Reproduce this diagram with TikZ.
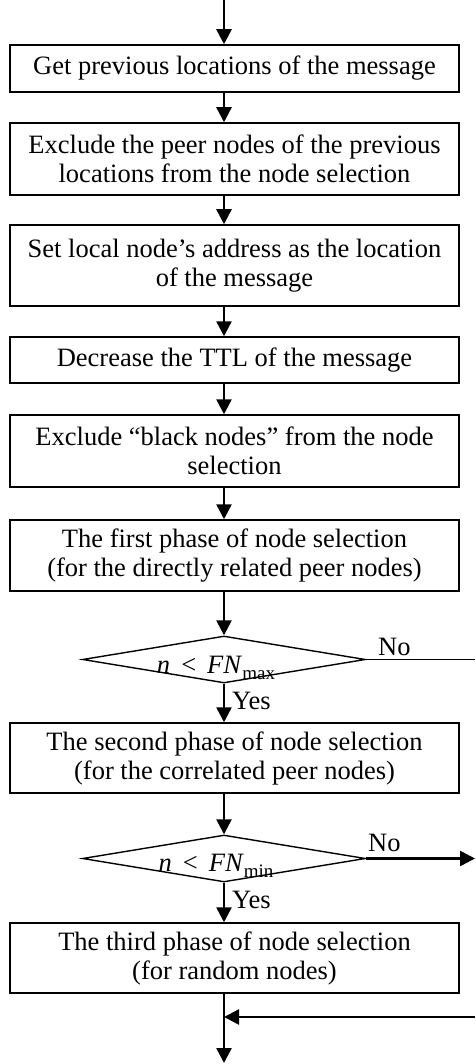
\documentclass[tikz,border=0pt]{standalone}
\usepackage{fontspec}
\setmainfont{Liberation Serif}
\usetikzlibrary{shapes.geometric,arrows.meta}
\begin{document}
\begin{tikzpicture}[x=1pt,y=-1pt,
  stepbox/.style={draw, line width=1.5pt, minimum width=449pt, align=center,
    inner sep=0pt, font=\fontsize{26.5}{29}\selectfont},
  decision/.style={draw, diamond, line width=1.4pt, inner sep=0pt,
    minimum width=283pt, minimum height=47pt},
  lbl/.style={inner sep=0pt, font=\fontsize{26.5}{29}\selectfont},
  flow/.style={line width=2.5pt, -{Triangle[length=15pt,width=15pt]}},
  plain/.style={line width=1.2pt}]
\useasboundingbox (0,0) rectangle (475,1064);
\coordinate (ax) at (224,0);
\coordinate (start) at (224,0);

\node[stepbox, minimum height=47pt] (b1) at (234.5,68.5) {Get previous locations of the message};
\node[stepbox, minimum height=72pt] (b2) at (234.5,159) {Exclude the peer nodes of the previous\\locations from the node selection};
\node[stepbox, minimum height=81pt] (b3) at (234.5,265.5) {Set local node’s address as the location\\of the message};
\node[stepbox, minimum height=46pt] (b4) at (234.5,360) {Decrease the TTL of the message};
\node[stepbox, minimum height=72pt] (b5) at (234.5,451) {Exclude “black nodes” from the node\\selection};
\node[stepbox, minimum height=71pt] (b6) at (234.5,555.5) {The first phase of node selection\\(for the directly related peer nodes)};
\node[decision] (d1) at (224,659.5) {};
\node[lbl, anchor=base] (t1) at (216,673) {\textit{n} \,<\, \textit{FN}\raisebox{-0.5ex}{\fontsize{19}{19}\selectfont max}};
\node[stepbox, minimum height=70pt] (b7) at (234.5,758) {The second phase of node selection\\(for the correlated peer nodes)};
\node[decision] (d2) at (224,858.5) {};
\node[lbl, anchor=base] (t2) at (216,871) {\textit{n} \,<\, \textit{FN}\raisebox{-0.5ex}{\fontsize{19}{19}\selectfont min}};
\node[stepbox, minimum height=70pt] (b8) at (234.5,958) {The third phase of node selection\\(for random nodes)};

\node[lbl, anchor=west] (no1) at (378,647) {No};
\node[lbl, anchor=west] (no2) at (368,843) {No};
\node[lbl, anchor=west] (yes1) at (232,701) {Yes};
\node[lbl, anchor=west] (yes2) at (232,900) {Yes};

\coordinate (r1) at (475,659.5);
\coordinate (r2) at (475,858.5);
\coordinate (r3) at (475,1017);
\coordinate (end) at (224,1063);

\draw[flow] (start) -- (b1.north -| ax);
\draw[flow] (b1.south -| ax) -- (b2.north -| ax);
\draw[flow] (b2.south -| ax) -- (b3.north -| ax);
\draw[flow] (b3.south -| ax) -- (b4.north -| ax);
\draw[flow] (b4.south -| ax) -- (b5.north -| ax);
\draw[flow] (b5.south -| ax) -- (b6.north -| ax);
\draw[flow] (b6.south -| ax) -- (d1.north);
\draw[flow] (d1.south) -- (b7.north -| ax);
\draw[flow] (b7.south -| ax) -- (d2.north);
\draw[flow] (d2.south) -- (b8.north -| ax);
\draw[flow] (b8.south -| ax) -- (end);
\draw[plain] (d1.east) -- (r1);
\draw[flow] (d2.east) -- (r2);
\draw[flow] (r3) -- (r3 -| ax);
\end{tikzpicture}
\end{document}
